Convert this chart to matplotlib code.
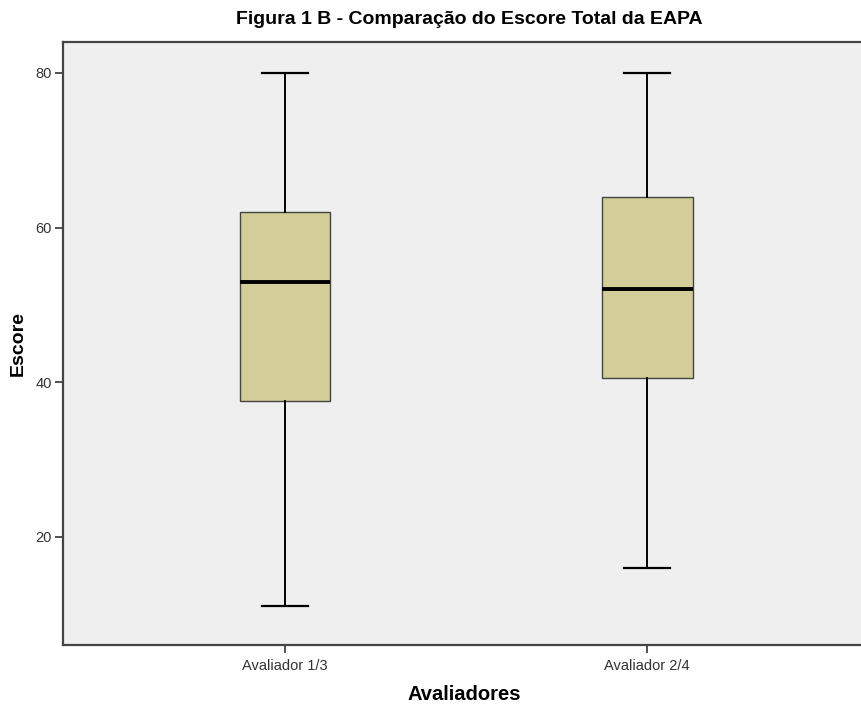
import matplotlib.pyplot as plt

plt.rcParams['font.family'] = ['Liberation Sans', 'DejaVu Sans']

# Box plot summary per rater group
groups = ['Avaliador 1/3', 'Avaliador 2/4']
whislo = [11, 16]
q1 = [37.5, 40.5]
med = [53, 52]
q3 = [62, 64]
whishi = [80, 80]

stats = []
for i, g in enumerate(groups):
    stats.append({'label': g, 'whislo': whislo[i], 'q1': q1[i], 'med': med[i],
                  'q3': q3[i], 'whishi': whishi[i], 'fliers': []})

fig = plt.figure(figsize=(8.61, 7.07), dpi=100)
ax = fig.add_axes([0.0732, 0.0877, 0.9268, 0.8529])
ax.set_facecolor('#efefef')

ax.bxp(stats, positions=[1, 2], widths=0.25, patch_artist=True,
       showfliers=False,
       boxprops=dict(facecolor='#d3ce99', edgecolor='#444444', linewidth=1),
       medianprops=dict(color='black', linewidth=2.8),
       whiskerprops=dict(color='black', linewidth=1.4),
       capprops=dict(color='black', linewidth=1.6),
       capwidths=0.127)

ax.set_xlim(0.387, 2.59)
ax.set_ylim(6.0, 84.0)
ax.set_yticks([20, 40, 60, 80])

for side in ['left', 'bottom', 'top']:
    ax.spines[side].set_color('#444444')
    ax.spines[side].set_linewidth(1.6)
ax.spines['right'].set_visible(False)

ax.tick_params(axis='both', direction='out', length=6, width=1.2,
               color='#333333', labelsize=10.5, labelcolor='#333333')
ax.tick_params(axis='x', pad=4)
ax.tick_params(axis='y', pad=2)

ax.set_xlabel('Avaliadores', fontsize=14.5, fontweight='bold')
ax.xaxis.set_label_coords(0.503, -0.066)
ax.set_ylabel('Escore', fontsize=14, fontweight='bold', labelpad=6)
fig.text(0.545, 0.973, 'Figura 1 B - Comparação do Escore Total da EAPA',
         ha='center', va='center', fontsize=14, fontweight='bold')

fig.savefig('out.png', dpi=100, facecolor='white')
